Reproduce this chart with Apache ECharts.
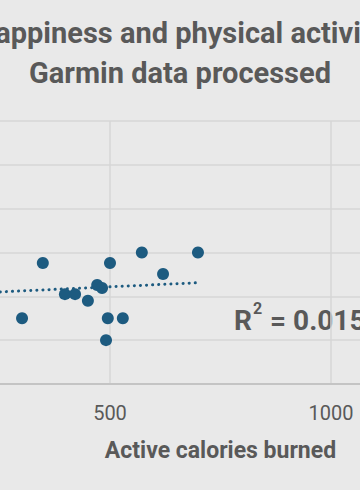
<!DOCTYPE html>
<html>
<head>
<meta charset="utf-8">
<script src="https://cdn.jsdelivr.net/npm/echarts@6/dist/echarts.min.js"></script>
<style>
html,body{margin:0;padding:0;background:#e9e9e9;overflow:hidden;}
#c{width:360px;height:490px;}
</style>
</head>
<body>
<div id="c"></div>
<script>
var titleLines = ['Happiness and physical activity', 'Garmin data processed'];
var xName = 'Active calories burned';
var caloriesBurned = [348, 500, 572, 699, 620, 471, 482, 398, 421, 450, 301, 495, 529, 491];
var happinessScore = [2.76, 2.76, 3.0, 3.0, 2.51, 2.26, 2.19, 2.05, 2.05, 1.9, 1.5, 1.5, 1.5, 1.0];
var trendX = [100, 699];
var trendY = [2.03, 2.31];
var xTicks = [0, 500, 1000, 1500];
var r2Text = '0.015';

var points = caloriesBurned.map(function (x, i) { return [x, happinessScore[i]]; });
var trend = trendX.map(function (x, i) { return [x, trendY[i]]; });

var chart = echarts.init(document.getElementById('c'), null, {renderer: 'svg'});
chart.setOption({
  backgroundColor: '#e9e9e9',
  animation: false,
  title: {
    text: titleLines.join('\n'),
    left: 'center',
    top: 13,
    padding: 0,
    textStyle: {
      fontFamily: 'Roboto', fontWeight: 'bold', fontSize: 29, color: '#595959', lineHeight: 40
    }
  },
  grid: {left: -111, right: -192, top: 121, bottom: 106, outerBoundsMode: 'none', containLabel: false},
  xAxis: {
    type: 'value',
    min: xTicks[0], max: xTicks[xTicks.length - 1], interval: 500,
    name: xName, nameLocation: 'middle', nameGap: 55,
    nameTextStyle: {fontFamily: 'Roboto', fontWeight: 'bold', fontSize: 23, color: '#595959'},
    axisLine: {show: true, lineStyle: {color: '#c4c4c4', width: 2}},
    axisTick: {show: false},
    axisLabel: {margin: 19, fontFamily: 'Roboto', fontSize: 20, color: '#595959',
      showMinLabel: false, showMaxLabel: false,
      formatter: function (v) { return String(v); }},
    splitLine: {show: true, lineStyle: {color: '#d6d6d6', width: 1.5}}
  },
  yAxis: {
    type: 'value', min: 0, max: 6, interval: 1,
    axisLine: {show: false}, axisTick: {show: false}, axisLabel: {show: false},
    splitLine: {show: true, lineStyle: {color: '#d6d6d6', width: 1.5}}
  },
  series: [
    {
      type: 'line', data: trend, symbol: 'none', silent: true,
      lineStyle: {color: '#1d5b80', width: 3, type: [0.1, 6], cap: 'round'}
    },
    {
      type: 'scatter', data: points, symbolSize: 12,
      itemStyle: {color: '#1d5b80', opacity: 1}
    }
  ],
  graphic: [{
    type: 'text', left: 234, top: 300,
    style: {
      text: '{r|R}{s|2}{r| = ' + r2Text + '}',
      fill: '#595959',
      rich: {
        r: {fontFamily: 'Roboto', fontWeight: 'bold', fontSize: 28, fill: '#595959', color: '#595959', verticalAlign: 'bottom', lineHeight: 34},
        s: {fontFamily: 'Roboto', fontWeight: 'bold', fontSize: 16, fill: '#595959', color: '#595959', verticalAlign: 'top', lineHeight: 34, padding: [0, 1, 0, 1]}
      }
    }
  }]
});
</script>
</body>
</html>
